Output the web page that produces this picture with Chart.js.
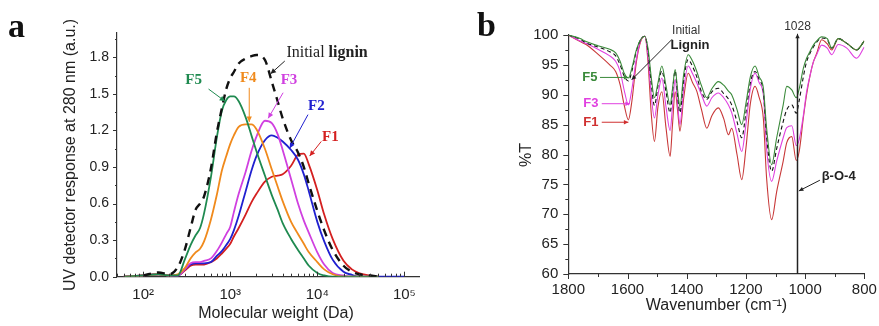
<!DOCTYPE html>
<html>
<head>
<meta charset="utf-8">
<script src="https://cdn.jsdelivr.net/npm/chart.js@4.4.0/dist/chart.umd.min.js"></script>
<style>
  html, body { margin: 0; padding: 0; background: #fff; }
  #wrap { position: relative; width: 879px; height: 326px; }
  canvas { position: absolute; top: 0; }
  #chartA { left: 0; }
  #chartB { left: 440px; }
</style>
</head>
<body>
<div id="wrap">
  <canvas id="chartA" width="440" height="326"></canvas>
  <canvas id="chartB" width="439" height="326"></canvas>
</div>
<script>
// ---- panel a: GPC curves (molecular weight in Da, UV response in a.u.) ----
const mw = [60, 100, 150, 200, 250, 300, 350, 400, 450, 500, 600, 700, 800, 900, 1000, 1100, 1250, 1500, 1750, 2000,
  2500, 3000, 3500, 4000, 5000, 6000, 7000, 8000, 10000, 12000, 15000, 20000, 25000, 30000, 40000, 50000, 70000, 100000];

const f5 = [0, 0.01, 0.02, 0.01, 0.01, 0.14, 0.26, 0.34, 0.40, 0.52, 0.82, 1.14, 1.36, 1.45, 1.48, 1.48, 1.44, 1.31, 1.16, 1.03,
  0.83, 0.67, 0.55, 0.44, 0.31, 0.22, 0.15, 0.09, 0.03, 0.01, 0, 0, 0, 0, 0, 0, null, null];
const f4 = [0, 0.01, 0.02, 0.01, 0.02, 0.07, 0.15, 0.20, 0.23, 0.29, 0.47, 0.67, 0.87, 0.99, 1.09, 1.16, 1.23, 1.25, 1.25, 1.21,
  1.05, 0.88, 0.74, 0.62, 0.45, 0.35, 0.27, 0.20, 0.12, 0.06, 0.02, 0, 0, 0, 0, 0, null, null];
const f3 = [0, 0.01, 0.02, 0.01, 0.01, 0.06, 0.11, 0.12, 0.12, 0.13, 0.15, 0.21, 0.28, 0.35, 0.41, 0.53, 0.68, 0.86, 1.03, 1.15,
  1.28, 1.26, 1.17, 1.04, 0.80, 0.60, 0.46, 0.36, 0.20, 0.10, 0.03, 0.01, 0, 0, 0, 0, null, null];
const f2 = [0, 0.01, 0.02, 0.01, 0.01, 0.06, 0.10, 0.11, 0.11, 0.11, 0.12, 0.17, 0.21, 0.26, 0.31, 0.38, 0.50, 0.70, 0.87, 0.99,
  1.12, 1.16, 1.14, 1.11, 1.04, 0.96, 0.84, 0.70, 0.45, 0.29, 0.14, 0.04, 0.015, 0, 0, 0, 0, 0];
const f1 = [0, 0.01, 0.02, 0.01, 0.01, 0.05, 0.09, 0.10, 0.10, 0.10, 0.12, 0.15, 0.19, 0.23, 0.27, 0.33, 0.40, 0.51, 0.61, 0.68,
  0.78, 0.82, 0.83, 0.84, 0.91, 1.00, 1.01, 0.92, 0.71, 0.51, 0.31, 0.13, 0.06, 0.03, 0.01, 0, null, null];
const initialA = [null, 0.01, 0.035, 0.02, 0.08, 0.22, 0.40, 0.55, 0.60, 0.66, 0.89, 1.18, 1.38, 1.54, 1.63, 1.68, 1.75, 1.79, 1.81, 1.82,
  1.78, 1.60, 1.44, 1.30, 1.12, 1.02, 0.90, 0.76, 0.54, 0.38, 0.22, 0.09, 0.04, 0.02, 0.01, 0, null, null];

const decadesA = [100, 1000, 10000, 100000];
const yTicksA = [0, 0.3, 0.6, 0.9, 1.2, 1.5, 1.8];

// ---- panel b: FTIR spectra (wavenumber in cm-1, %T) ----
const wn = [1800, 1760, 1740, 1700, 1660, 1640, 1625, 1610, 1597, 1585, 1570, 1555, 1541, 1530, 1520, 1509, 1497, 1484, 1470, 1456,
  1448, 1439, 1430, 1423, 1410, 1395, 1380, 1366, 1350, 1332, 1315, 1293, 1275, 1259, 1248, 1230, 1214, 1200, 1185, 1169,
  1155, 1141, 1130, 1113, 1096, 1074, 1062, 1045, 1030, 1020, 1006, 995, 983, 972, 961, 944, 925, 910, 888, 859, 826, 800];

const irF5 = [100, 99.4, 98.9, 98.2, 97.6, 97.0, 95.6, 93.5, 92.8, 94.5, 97.5, 99.3, 99.8, 97.5, 93.0, 89.5, 92.0, 94.8, 91.5, 88.3,
  91.0, 94.2, 90.5, 88.0, 93.5, 96.7, 95.6, 93.9, 91.5, 89.5, 91.0, 92.2, 91.6, 90.6, 90.0, 87.5, 85.0, 88.5, 93.0, 94.8,
  93.0, 91.1, 84.4, 78.3, 82.8, 88.3, 91.4, 90.8, 89.5, 91.0, 94.4, 96.1, 97.3, 98.3, 99.0, 99.7, 99.4, 97.8, 99.4, 98.6, 97.5, 99.0];
const irInitial = [100, 99.3, 98.7, 98.0, 97.2, 96.5, 95.0, 93.0, 92.3, 94.0, 97.3, 99.3, 99.8, 97.0, 92.0, 88.2, 91.5, 94.0, 90.5, 87.0,
  90.5, 94.0, 89.5, 87.0, 92.5, 95.9, 94.7, 93.0, 90.5, 89.2, 90.5, 91.1, 90.2, 89.3, 88.3, 85.5, 82.8, 87.0, 92.0, 93.9,
  92.5, 90.5, 83.0, 77.2, 81.0, 85.5, 87.5, 88.3, 86.9, 89.0, 93.0, 95.5, 97.0, 98.0, 98.8, 99.5, 99.2, 97.8, 99.4, 98.6, 97.5, 99.0];
const irF3 = [100, 99.0, 98.6, 97.6, 96.5, 95.6, 93.9, 90.5, 88.3, 91.0, 96.0, 99.2, 99.8, 96.0, 90.0, 86.1, 90.0, 92.8, 88.0, 84.0,
  88.0, 92.5, 88.0, 85.0, 91.0, 94.8, 93.5, 92.0, 90.0, 88.1, 89.5, 90.3, 89.5, 88.3, 87.0, 83.5, 80.5, 85.0, 91.0, 93.6,
  92.0, 90.0, 81.0, 75.5, 78.9, 82.8, 84.5, 84.8, 81.5, 82.5, 86.5, 90.5, 93.3, 95.5, 96.7, 98.3, 97.8, 96.7, 98.4, 97.8, 96.1, 98.0];
const irF1 = [100, 98.9, 98.4, 96.8, 95.0, 93.9, 91.7, 88.0, 85.8, 89.0, 95.5, 99.0, 99.8, 95.0, 87.0, 82.2, 88.0, 90.5, 84.5, 79.7,
  85.0, 90.5, 87.0, 83.9, 89.5, 93.6, 92.0, 90.6, 87.5, 84.4, 86.5, 87.8, 86.0, 83.3, 84.4, 80.0, 75.8, 81.0, 88.5, 91.4,
  89.5, 86.0, 76.0, 69.1, 73.8, 78.9, 82.0, 83.0, 79.0, 80.5, 86.1, 90.0, 93.3, 95.5, 96.9, 99.2, 98.5, 97.5, 99.4, 98.6, 97.5, 99.0];

const xTicksB = [800, 1000, 1200, 1400, 1600, 1800];
const yTicksB = [60, 65, 70, 75, 80, 85, 90, 95, 100];
const bandB = 1028;

const SANS = "'Liberation Sans', Arial, sans-serif";
const SERIF = "'Liberation Serif', 'Times New Roman', serif";
const sup = { 2: '\u00b2', 3: '\u00b3', 4: '\u2074', 5: '\u2075' };

// annotation labels, in data coordinates
const labelsA = [
  { text: 'F5', color: '#1f8a50', at: [379, 1.61], from: [563, 1.54], to: [871, 1.44] },
  { text: 'F4', color: '#f08a1c', at: [1611, 1.63], from: [1652, 1.55], to: [1652, 1.27] },
  { text: 'F3', color: '#d040e0', at: [4730, 1.61], from: [4047, 1.51], to: [2729, 1.30] },
  { text: 'F2', color: '#2020d0', at: [9750, 1.40], from: [7810, 1.33], to: [4820, 1.055] },
  { text: 'F1', color: '#d42020', at: [14100, 1.145], from: [11100, 1.11], to: [8170, 0.99] }
];
const labelsB = [
  { text: 'F5', color: '#3a8a3a', at: [1727, 92.9], from: [1693, 92.9], to: [1597, 92.9] },
  { text: 'F3', color: '#e040e0', at: [1724, 88.5], from: [1687, 88.5], to: [1592, 88.5] },
  { text: 'F1', color: '#d03030', at: [1724, 85.4], from: [1687, 85.4], to: [1597, 85.4] }
];

function arrow(ctx, x1, y1, x2, y2, color, head) {
  ctx.save();
  ctx.strokeStyle = color;
  ctx.fillStyle = color;
  ctx.lineWidth = 1;
  ctx.beginPath();
  ctx.moveTo(x1, y1);
  ctx.lineTo(x2, y2);
  ctx.stroke();
  const a = Math.atan2(y2 - y1, x2 - x1);
  ctx.beginPath();
  ctx.moveTo(x2, y2);
  ctx.lineTo(x2 - head * Math.cos(a - 0.45), y2 - head * Math.sin(a - 0.45));
  ctx.lineTo(x2 - head * Math.cos(a + 0.45), y2 - head * Math.sin(a + 0.45));
  ctx.closePath();
  ctx.fill();
  ctx.restore();
}

function tickMarks(ctx, scale, values, len, inward) {
  ctx.save();
  ctx.strokeStyle = '#333';
  ctx.lineWidth = 1;
  ctx.beginPath();
  values.forEach(v => {
    const p = Math.round(scale.getPixelForValue(v)) + 0.5;
    if (scale.isHorizontal()) {
      const y0 = scale.top;
      ctx.moveTo(p, y0);
      ctx.lineTo(p, inward ? y0 - len : y0 + len);
    } else {
      const x0 = scale.right;
      ctx.moveTo(x0, p);
      ctx.lineTo(inward ? x0 + len : x0 - len, p);
    }
  });
  ctx.stroke();
  ctx.restore();
}

function text(ctx, str, x, y, font, color, align, rotate) {
  ctx.save();
  ctx.font = font;
  ctx.fillStyle = color;
  ctx.textAlign = align || 'center';
  ctx.textBaseline = 'middle';
  ctx.translate(x, y);
  if (rotate) ctx.rotate(-Math.PI / 2);
  ctx.fillText(str, 0, 0);
  ctx.restore();
}

const decorA = {
  id: 'decorA',
  afterDraw(chart) {
    const { ctx, scales: { x, y } } = chart;
    // log minor ticks, pointing inward
    const minor = [];
    for (let e = 1; e <= 5; e++) {
      for (let m = 2; m <= 9; m++) {
        const v = m * Math.pow(10, e);
        if (v >= 50 && v <= 150000) minor.push(v);
      }
    }
    tickMarks(ctx, x, minor, 3, true);
    tickMarks(ctx, x, decadesA, 5, true);
    tickMarks(ctx, y, yTicksA, 4, false);
    tickMarks(ctx, y, yTicksA.map(v => v + 0.15).filter(v => v < 2), 2, false);

    text(ctx, 'UV detector response at 280 nm (a.u.)', 71, 155, '16px ' + SANS, '#222', 'center', true);
    text(ctx, 'Molecular weight (Da)', 276, 314, '16px ' + SANS, '#222');
    text(ctx, 'a', 8, 28, 'bold 34px ' + SERIF, '#111', 'left');

    labelsA.forEach(l => {
      text(ctx, l.text, x.getPixelForValue(l.at[0]), y.getPixelForValue(l.at[1]), 'bold 15px ' + SERIF, l.color);
      arrow(ctx, x.getPixelForValue(l.from[0]), y.getPixelForValue(l.from[1]),
        x.getPixelForValue(l.to[0]), y.getPixelForValue(l.to[1]), l.color, 6);
    });
    // "Initial lignin"
    const tx = x.getPixelForValue(4415), ty = y.getPixelForValue(1.835);
    ctx.save();
    ctx.font = '16px ' + SERIF;
    const w1 = ctx.measureText('Initial ').width;
    ctx.restore();
    text(ctx, 'Initial ', tx, ty, '16px ' + SERIF, '#222', 'left');
    text(ctx, 'lignin', tx + w1, ty, 'bold 16px ' + SERIF, '#222', 'left');
    arrow(ctx, x.getPixelForValue(4230), y.getPixelForValue(1.77),
      x.getPixelForValue(2905), y.getPixelForValue(1.665), '#222', 6);
  }
};

const decorB = {
  id: 'decorB',
  afterDraw(chart) {
    const { ctx, scales: { x, y } } = chart;
    const minorX = [];
    for (let v = 900; v < 1800; v += 200) minorX.push(v);
    tickMarks(ctx, x, xTicksB, 5, false);
    tickMarks(ctx, x, minorX, 3, false);
    tickMarks(ctx, y, yTicksB, 5, false);
    tickMarks(ctx, y, yTicksB.slice(1).map(v => v - 2.5), 3, false);

    text(ctx, '%T', 87, 155, '16px ' + SANS, '#222', 'center', true);
    text(ctx, 'Wavenumber (cm\u207b\u00b9)', 276.5, 306, '16px ' + SANS, '#222');
    text(ctx, 'b', 37, 27, 'bold 34px ' + SERIF, '#111', 'left');

    labelsB.forEach(l => {
      text(ctx, l.text, x.getPixelForValue(l.at[0]), y.getPixelForValue(l.at[1]), 'bold 13px ' + SANS, l.color);
      arrow(ctx, x.getPixelForValue(l.from[0]), y.getPixelForValue(l.from[1]),
        x.getPixelForValue(l.to[0]), y.getPixelForValue(l.to[1]), l.color, 5);
    });

    // initial lignin label
    text(ctx, 'Initial', x.getPixelForValue(1402), y.getPixelForValue(100.8), '12px ' + SANS, '#333');
    text(ctx, 'Lignin', x.getPixelForValue(1389), y.getPixelForValue(98.3), 'bold 13px ' + SANS, '#222');
    arrow(ctx, x.getPixelForValue(1449), y.getPixelForValue(99.3),
      x.getPixelForValue(1586), y.getPixelForValue(92.5), '#222', 5);

    // 1028 band marker
    const bx = Math.round(x.getPixelForValue(bandB)) + 0.5;
    ctx.save();
    ctx.strokeStyle = '#222';
    ctx.lineWidth = 1.5;
    ctx.beginPath();
    ctx.moveTo(bx, y.getPixelForValue(60));
    ctx.lineTo(bx, y.getPixelForValue(99.6));
    ctx.stroke();
    ctx.restore();
    arrow(ctx, bx, y.getPixelForValue(99), bx, y.getPixelForValue(100.2), '#222', 5);
    text(ctx, String(bandB), bx, y.getPixelForValue(101.4), '12px ' + SANS, '#333');

    // beta-O-4
    text(ctx, '\u03b2-O-4', x.getPixelForValue(944), y.getPixelForValue(76.3), 'bold 13px ' + SANS, '#222', 'left');
    arrow(ctx, x.getPixelForValue(950), y.getPixelForValue(75.7),
      x.getPixelForValue(1021), y.getPixelForValue(73.9), '#222', 5);
  }
};

function lineA(data, color, dashed) {
  return {
    data: mw.map((m, i) => ({ x: m, y: data[i] })),
    borderColor: color,
    borderWidth: dashed ? 2.4 : 1.8,
    borderDash: dashed ? [8, 6] : [],
    pointRadius: 0,
    cubicInterpolationMode: 'monotone',
    spanGaps: false,
    fill: false
  };
}

function lineB(data, color, dashed) {
  return {
    data: wn.map((w, i) => ({ x: w, y: data[i] })),
    borderColor: color,
    borderWidth: 1.1,
    borderDash: dashed ? [4, 3] : [],
    pointRadius: 0,
    cubicInterpolationMode: 'monotone',
    fill: false
  };
}

const tickFont = size => ({ family: SANS, size });

new Chart(document.getElementById('chartA'), {
  type: 'line',
  data: {
    datasets: [
      lineA(initialA, '#111', true),
      lineA(f5, '#1f8a50'),
      lineA(f4, '#f08a1c'),
      lineA(f3, '#d040e0'),
      lineA(f2, '#2020d0'),
      lineA(f1, '#d42020')
    ]
  },
  options: {
    responsive: false,
    animation: false,
    layout: { padding: { top: 33, right: 20.3, left: 0, bottom: 0 } },
    plugins: { legend: { display: false }, tooltip: { enabled: false } },
    scales: {
      x: {
        type: 'logarithmic',
        min: 50,
        max: 150000,
        afterBuildTicks: s => { s.ticks = decadesA.map(v => ({ value: v })); },
        afterFit: s => { s.height = 49.3; },
        grid: { display: false, drawTicks: false },
        border: { display: true, color: '#333', width: 1.2 },
        ticks: {
          autoSkip: false,
          maxRotation: 0,
          padding: 9,
          color: '#222',
          font: tickFont(15),
          callback: v => '10' + sup[Math.round(Math.log10(v))]
        }
      },
      y: {
        min: 0,
        max: 2.0,
        afterBuildTicks: s => { s.ticks = yTicksA.map(v => ({ value: v })); },
        afterFit: s => { s.width = 117; },
        grid: { display: false, drawTicks: false },
        border: { display: true, color: '#333', width: 1.2 },
        ticks: { padding: 8, color: '#222', font: tickFont(14), callback: v => v.toFixed(1) }
      }
    }
  },
  plugins: [decorA]
});

new Chart(document.getElementById('chartB'), {
  type: 'line',
  data: {
    datasets: [
      lineB(irF5, '#3a8a3a'),
      lineB(irInitial, '#111', true),
      lineB(irF3, '#e040e0'),
      lineB(irF1, '#c83838')
    ]
  },
  options: {
    responsive: false,
    animation: false,
    layout: { padding: { top: 35, right: 14.7, left: 0, bottom: 0 } },
    plugins: { legend: { display: false }, tooltip: { enabled: false } },
    scales: {
      x: {
        type: 'linear',
        reverse: true,
        min: 800,
        max: 1800,
        afterBuildTicks: s => { s.ticks = xTicksB.map(v => ({ value: v })); },
        afterFit: s => { s.height = 52; },
        grid: { display: false, drawTicks: false },
        border: { display: true, color: '#333', width: 1.2 },
        ticks: { autoSkip: false, maxRotation: 0, padding: 7, color: '#222', font: tickFont(15), callback: v => String(v) }
      },
      y: {
        min: 60,
        max: 100,
        afterBuildTicks: s => { s.ticks = yTicksB.map(v => ({ value: v })); },
        afterFit: s => { s.width = 128.3; },
        grid: { display: false, drawTicks: false },
        border: { display: true, color: '#333', width: 1.2 },
        ticks: { padding: 10, color: '#222', font: tickFont(15), callback: v => String(v) }
      }
    }
  },
  plugins: [decorB]
});
</script>
</body>
</html>
